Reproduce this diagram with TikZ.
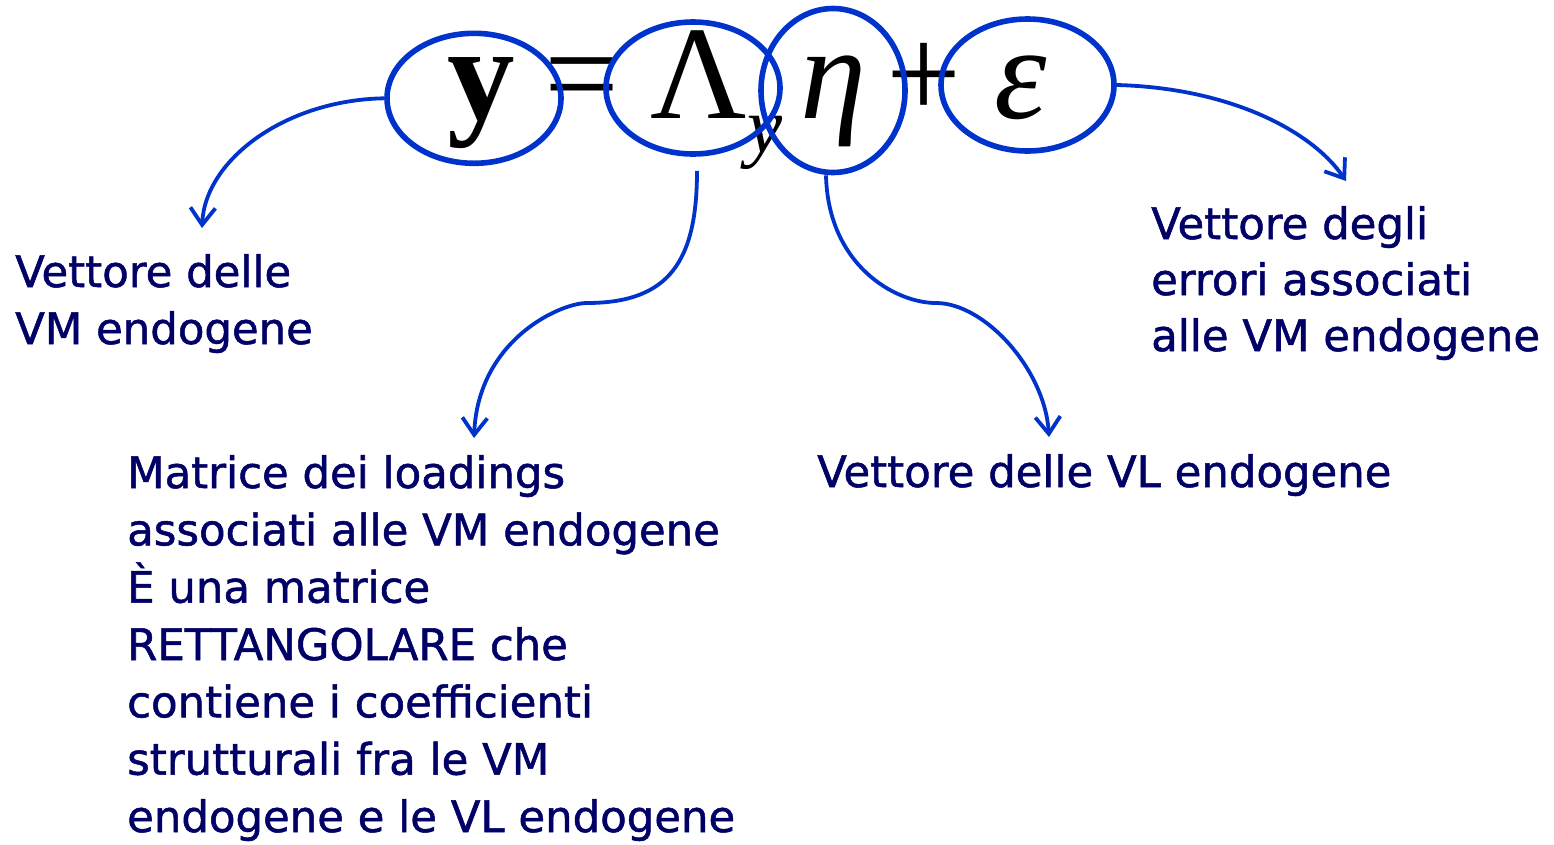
\documentclass[tikz,border=0pt]{standalone}
\usepackage{fontspec}
\setmainfont{DejaVu Sans}
\newfontfamily\notefont[FakeBold=1.2]{DejaVu Sans}
\newfontfamily\eqfont{Liberation Serif}
\usetikzlibrary{shapes.geometric,arrows.meta}
\definecolor{ringblue}{HTML}{0033CC}
\definecolor{inknavy}{HTML}{000066}
\begin{document}
\begin{tikzpicture}[x=1pt,y=-1pt,
  ring/.style={ellipse,draw=ringblue,line width=5.6pt,inner sep=0pt},
  sym/.style={inner sep=0pt,text=black,anchor=base},
  bigsym/.style={sym,font=\eqfont\fontsize{133}{133}\selectfont},
  note/.style={inner sep=0pt,align=left,anchor=base west,text=inknavy,
    font=\notefont\fontsize{43.4}{57}\selectfont},
  link/.style={draw=ringblue,line width=3.8pt,
    -{Straight Barb[length=17pt,width=25pt]}}]
\useasboundingbox (0,0) rectangle (1554,844);

% the measurement equation  y = Lambda_y eta + epsilon, on one baseline
\node[sym,font=\eqfont\fontsize{135}{135}\selectfont\bfseries] (gy) at (481.5,119) {y};
\node[bigsym] (geq) at (582,118) {=};
\node[bigsym] (gLam) at (698.5,118) {Λ};
\node[sym,font=\eqfont\fontsize{79}{79}\selectfont\itshape] (gsub) at (765,152) {y};
\node[bigsym,font=\eqfont\fontsize{133}{133}\selectfont\itshape] (geta) at (833,118) {η};
\node[bigsym] (gplus) at (924,118) {+};
\node[bigsym,font=\eqfont\fontsize{133}{133}\selectfont\itshape] (geps) at (1021,118) {ε};

% rings around the terms
\node[ring,minimum width=174pt,minimum height=130pt] (eY) at (474,98.3) {};
\node[ring,minimum width=174pt,minimum height=132pt] (eL) at (693,88) {};
\node[ring,minimum width=144pt,minimum height=164pt] (eEta) at (833,90.5) {};
\node[ring,minimum width=173pt,minimum height=132pt] (eEps) at (1027.5,85) {};

% explanations (anchored at the baseline of their last line)
\node[note] (tVM) at (15,344) {Vettore delle\\VM endogene};
\node[note,font=\notefont\fontsize{43.4}{57.33}\selectfont] (tLoad) at (127,832) {Matrice dei loadings\\associati alle VM endogene\\È una matrice\\RETTANGOLARE che\\contiene i coefficienti\\strutturali fra le VM\\endogene e le VL endogene};
\node[note] (tVL) at (817,487) {Vettore delle VL endogene};
\node[note,font=\notefont\fontsize{43.4}{56}\selectfont] (tErr) at (1151,351) {Vettore degli\\errori associati\\alle VM endogene};

% arrow ends
\coordinate (k1) at (202,228);
\coordinate (k2) at (474,438);
\coordinate (k3) at (1049,437);
\coordinate (k4) at (1346,181);

\draw[link] (eY.west) .. controls (285,100) and (205,160) .. (k1);
\draw[link] ([xshift=4pt,yshift=-14pt]eL.south) .. controls (697,260) and (670,303) .. (587,303)
  .. controls (560,303) and (478,340) .. (k2);
\draw[link] ([xshift=-7pt]eEta.south) .. controls (828,265) and (895,303) .. (936,303)
  .. controls (985,303) and (1045,370) .. (k3);
\draw[link] (eEps.east) .. controls (1230,88) and (1312,131) .. (k4);
\end{tikzpicture}
\end{document}
